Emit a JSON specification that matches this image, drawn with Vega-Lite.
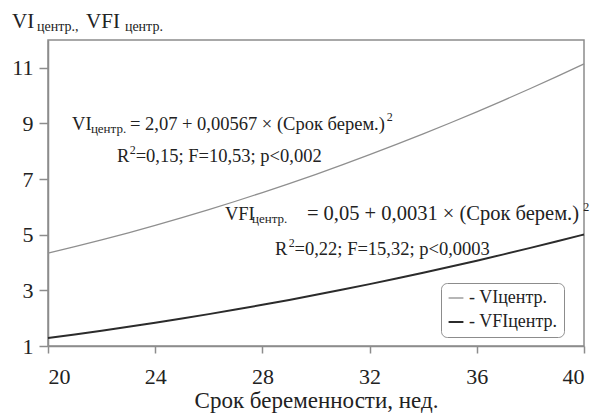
{
  "$schema": "https://vega.github.io/schema/vega-lite/v6.json",
  "width": 536,
  "height": 306,
  "autosize": "none",
  "padding": {"left": 48, "top": 40, "right": 14, "bottom": 73},
  "background": "white",
  "config": {
    "view": {"stroke": "#8c8c8c", "strokeWidth": 1.5},
    "font": "Liberation Serif, Times New Roman, serif",
    "axis": {"grid": false, "domainColor": "#8c8c8c", "domainWidth": 1.5, "tickColor": "#8c8c8c", "tickWidth": 1.5, "labelFont": "Liberation Serif, Times New Roman, serif", "labelColor": "#222", "labelFontSize": 22, "titleFont": "Liberation Serif, Times New Roman, serif", "titleFontWeight": "normal", "titleColor": "#222"}
  },
  "datasets": {
    "curves": [
      {"week": 20, "series": "VI", "value": 4.338}, {"week": 21, "series": "VI", "value": 4.5705}, {"week": 22, "series": "VI", "value": 4.8143},
      {"week": 23, "series": "VI", "value": 5.0694}, {"week": 24, "series": "VI", "value": 5.3359}, {"week": 25, "series": "VI", "value": 5.6138},
      {"week": 26, "series": "VI", "value": 5.9029}, {"week": 27, "series": "VI", "value": 6.2034}, {"week": 28, "series": "VI", "value": 6.5153},
      {"week": 29, "series": "VI", "value": 6.8385}, {"week": 30, "series": "VI", "value": 7.173}, {"week": 31, "series": "VI", "value": 7.5189},
      {"week": 32, "series": "VI", "value": 7.8761}, {"week": 33, "series": "VI", "value": 8.2446}, {"week": 34, "series": "VI", "value": 8.6245},
      {"week": 35, "series": "VI", "value": 9.0158}, {"week": 36, "series": "VI", "value": 9.4183}, {"week": 37, "series": "VI", "value": 9.8322},
      {"week": 38, "series": "VI", "value": 10.2575}, {"week": 39, "series": "VI", "value": 10.6941}, {"week": 40, "series": "VI", "value": 11.142},
      {"week": 20, "series": "VFI", "value": 1.29}, {"week": 21, "series": "VFI", "value": 1.4171}, {"week": 22, "series": "VFI", "value": 1.5504},
      {"week": 23, "series": "VFI", "value": 1.6899}, {"week": 24, "series": "VFI", "value": 1.8356}, {"week": 25, "series": "VFI", "value": 1.9875},
      {"week": 26, "series": "VFI", "value": 2.1456}, {"week": 27, "series": "VFI", "value": 2.3099}, {"week": 28, "series": "VFI", "value": 2.4804},
      {"week": 29, "series": "VFI", "value": 2.6571}, {"week": 30, "series": "VFI", "value": 2.84}, {"week": 31, "series": "VFI", "value": 3.0291},
      {"week": 32, "series": "VFI", "value": 3.2244}, {"week": 33, "series": "VFI", "value": 3.4259}, {"week": 34, "series": "VFI", "value": 3.6336},
      {"week": 35, "series": "VFI", "value": 3.8475}, {"week": 36, "series": "VFI", "value": 4.0676}, {"week": 37, "series": "VFI", "value": 4.2939},
      {"week": 38, "series": "VFI", "value": 4.5264}, {"week": 39, "series": "VFI", "value": 4.7651}, {"week": 40, "series": "VFI", "value": 5.01}
    ],
    "main": [
      {"x": 20.9, "y": 8.77, "t": "VI"},
      {"x": 23.06, "y": 8.77, "t": "= 2,07 + 0,00567 × (Срок берем.)"},
      {"x": 22.57, "y": 7.62, "t": "R"},
      {"x": 23.27, "y": 7.62, "t": "=0,15; F=10,53; p<0,002"},
      {"x": 26.6, "y": 5.53, "t": "VFI"},
      {"x": 28.47, "y": 4.27, "t": "R"},
      {"x": 29.2, "y": 4.27, "t": "=0,22; F=15,32; p<0,0003"}
    ],
    "main2": [
      {"x": 29.66, "y": 5.53, "t": "= 0,05 + 0,0031 × (Срок берем.)"}
    ],
    "sub": [
      {"x": 21.6, "y": 8.66, "t": "центр."},
      {"x": 27.61, "y": 5.42, "t": "центр."}
    ],
    "sup": [
      {"x": 32.64, "y": 9.09, "t": "2"},
      {"x": 23.05, "y": 7.91, "t": "2"},
      {"x": 39.97, "y": 5.86, "t": "2"},
      {"x": 28.98, "y": 4.56, "t": "2"}
    ],
    "ytitle": [
      {"x": 18.66, "y": 12.44, "t": "VI"},
      {"x": 21.42, "y": 12.44, "t": "VFI"}
    ],
    "ytitlesub": [
      {"x": 19.59, "y": 12.33, "t": "центр.,"},
      {"x": 22.87, "y": 12.33, "t": "центр."}
    ]
  },
  "layer": [
    {
      "data": {"name": "curves"},
      "mark": {"type": "line", "interpolate": "monotone"},
      "encoding": {
        "x": {"field": "week", "type": "quantitative", "scale": {"domain": [20, 40], "nice": false, "zero": false},
          "axis": {"values": [20, 24, 28, 32, 36, 40], "tickSize": 7, "labelPadding": 13, "title": "Срок беременности,  нед.", "titleFontSize": 23, "titlePadding": 2}},
        "y": {"field": "value", "type": "quantitative", "scale": {"domain": [1, 12], "nice": false, "zero": false},
          "axis": {"values": [1, 2, 3, 4, 5, 6, 7, 8, 9, 10, 11, 12], "labelExpr": "datum.value % 2 === 1 ? datum.label : ''",
            "tickSize": {"condition": {"test": "datum.value % 2 === 0", "value": 4}, "value": 9}, "labelPadding": 6, "title": null}},
        "color": {"field": "series", "type": "nominal", "scale": {"domain": ["VI", "VFI"], "range": ["#8f8f8f", "#2b2b2b"]},
          "legend": {"orient": "none", "legendX": 393, "legendY": 243, "title": null, "symbolType": "stroke", "symbolSize": 220, "symbolStrokeWidth": 2,
            "labelExpr": "'- ' + datum.label + 'центр.'", "labelFont": "Liberation Serif, Times New Roman, serif", "labelFontSize": 18, "labelColor": "#222",
            "strokeColor": "#8c8c8c", "cornerRadius": 6, "fillColor": "white", "padding": 6, "rowPadding": 6, "offset": 0}},
        "strokeWidth": {"field": "series", "type": "nominal", "scale": {"domain": ["VI", "VFI"], "range": [1.3, 2]}, "legend": null}
      }
    },
    {
      "data": {"name": "main"},
      "mark": {"type": "text", "align": "left", "baseline": "alphabetic", "font": "Liberation Serif, Times New Roman, serif", "fontSize": 18.5, "color": "#222"},
      "encoding": {"x": {"field": "x", "type": "quantitative"}, "y": {"field": "y", "type": "quantitative"}, "text": {"field": "t"}}
    },
    {
      "data": {"name": "main2"},
      "mark": {"type": "text", "align": "left", "baseline": "alphabetic", "font": "Liberation Serif, Times New Roman, serif", "fontSize": 20.5, "color": "#222"},
      "encoding": {"x": {"field": "x", "type": "quantitative"}, "y": {"field": "y", "type": "quantitative"}, "text": {"field": "t"}}
    },
    {
      "data": {"name": "sub"},
      "mark": {"type": "text", "align": "left", "baseline": "alphabetic", "font": "Liberation Serif, Times New Roman, serif", "fontSize": 13, "color": "#222"},
      "encoding": {"x": {"field": "x", "type": "quantitative"}, "y": {"field": "y", "type": "quantitative"}, "text": {"field": "t"}}
    },
    {
      "data": {"name": "sup"},
      "mark": {"type": "text", "align": "left", "baseline": "alphabetic", "font": "Liberation Serif, Times New Roman, serif", "fontSize": 12, "color": "#222"},
      "encoding": {"x": {"field": "x", "type": "quantitative"}, "y": {"field": "y", "type": "quantitative"}, "text": {"field": "t"}}
    },
    {
      "data": {"name": "ytitle"},
      "mark": {"type": "text", "align": "left", "baseline": "alphabetic", "font": "Liberation Serif, Times New Roman, serif", "fontSize": 21, "color": "#222"},
      "encoding": {"x": {"field": "x", "type": "quantitative"}, "y": {"field": "y", "type": "quantitative"}, "text": {"field": "t"}}
    },
    {
      "data": {"name": "ytitlesub"},
      "mark": {"type": "text", "align": "left", "baseline": "alphabetic", "font": "Liberation Serif, Times New Roman, serif", "fontSize": 14, "color": "#222"},
      "encoding": {"x": {"field": "x", "type": "quantitative"}, "y": {"field": "y", "type": "quantitative"}, "text": {"field": "t"}}
    }
  ]
}
